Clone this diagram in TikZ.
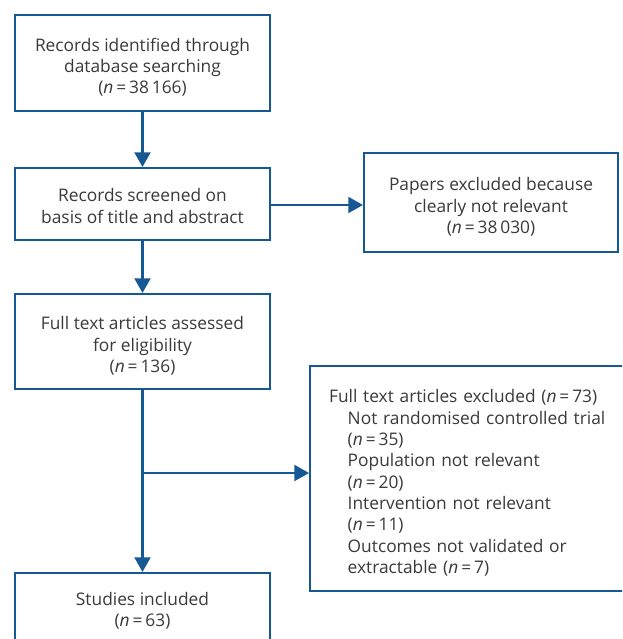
\documentclass[tikz,border=0pt]{standalone}
\usepackage{fontspec}
\setmainfont{Open Sans}
\usetikzlibrary{arrows.meta}
\definecolor{boxblue}{RGB}{22,88,148}
\definecolor{txtgrey}{RGB}{58,58,58}
\newcommand{\nn}[1]{(\textit{n}\kern2.2pt=\kern2.2pt#1)}
\newcommand{\tstrut}{\rule{0pt}{16.5pt}}
\begin{document}
\begin{tikzpicture}[x=0.75pt,y=-0.75pt,
  box/.style={draw=boxblue, line width=1.6pt, fill=white, text=txtgrey, align=center,
    inner sep=0pt, font=\fontsize{13}{16}\selectfont},
  arr/.style={draw=boxblue, line width=1.6pt, -{Triangle[length=11pt,width=12pt]}}]
\useasboundingbox (0,0) rectangle (622,639);
\clip (0,0) rectangle (622,639);
\fill[white] (0,0) rectangle (622,639);
\node[box, minimum width=255*0.75pt, minimum height=96*0.75pt] (B1) at (142.5,63)
  {\tstrut Records identified through\\database searching\\\nn{38\,166}};
\node[box, minimum width=255*0.75pt, minimum height=72*0.75pt] (B2) at (142.5,204)
  {\rule{0pt}{13pt}Records screened on\\basis of title and abstract};
\node[box, minimum width=254*0.75pt, minimum height=99*0.75pt] (B3) at (491,202.5)
  {\tstrut Papers excluded because\\clearly not relevant\\\nn{38\,030}};
\node[box, minimum width=255*0.75pt, minimum height=95*0.75pt] (B4) at (142.5,341.5)
  {\tstrut Full text articles assessed\\for eligibility\\\nn{136}};
\node[box, align=left, minimum width=351*0.75pt, minimum height=225*0.75pt,
  inner xsep=19*0.75pt, text width=313*0.75pt, anchor=west] (B5) at (309,478.5)
  {\tstrut Full text articles excluded \nn{73}\\
   \hspace*{14pt}Not randomised controlled trial\\
   \hspace*{14pt}\nn{35}\\
   \hspace*{14pt}Population not relevant\\
   \hspace*{14pt}\nn{20}\\
   \hspace*{14pt}Intervention not relevant\\
   \hspace*{14pt}\nn{11}\\
   \hspace*{14pt}Outcomes not validated or\\
   \hspace*{14pt}extractable \nn{7}};
\node[box, minimum width=255*0.75pt, minimum height=76*0.75pt] (B6) at (142.5,611)
  {Studies included\\\nn{63}};
\coordinate (br) at (142.5,473);
\draw[arr] (B1) -- (B2);
\draw[arr] (B2.east |- 0,205) -- (B3.west |- 0,205);
\draw[arr] (B2) -- (B4);
\draw[arr] (B4) -- (B6);
\draw[arr] (br) -- (br -| B5.west);
\end{tikzpicture}
\end{document}
